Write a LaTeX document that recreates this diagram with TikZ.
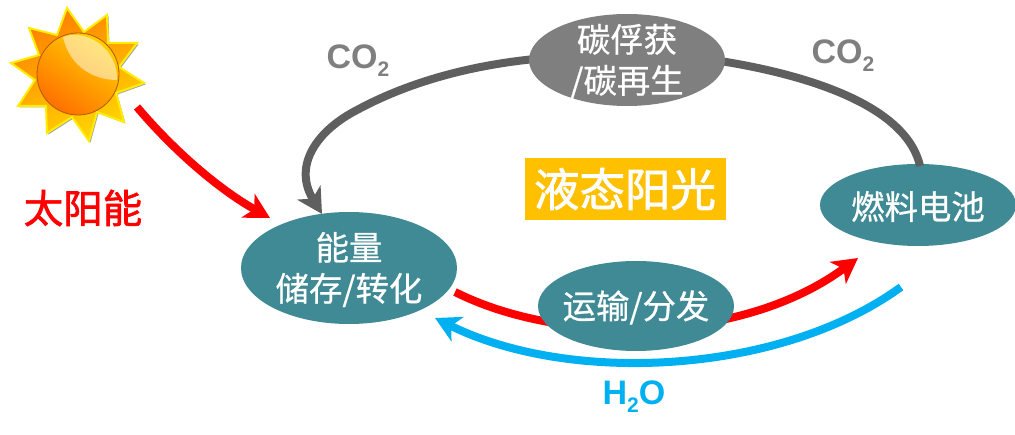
\documentclass[tikz,border=0pt]{standalone}
\usepackage{fontspec}
\setmainfont{Liberation Sans}
\newfontfamily\cjk[FakeBold=0.7]{Noto Sans CJK SC}
\newfontfamily\cjkb[FakeBold=1.6]{Noto Sans CJK SC}
\usetikzlibrary{arrows.meta,shapes.geometric,shadings}
\definecolor{teal1}{HTML}{3F8A94}
\definecolor{grey1}{HTML}{7F7F7F}
\definecolor{grey2}{HTML}{5F5F5F}
\definecolor{blue1}{HTML}{00B0F0}
\definecolor{gold1}{HTML}{FFC000}
\definecolor{ray1}{HTML}{FF8000}
\definecolor{ray2}{HTML}{FFD800}
\definecolor{ball1}{HTML}{FFD000}
\definecolor{ball2}{HTML}{FF7000}
\newcommand{\subtwo}{\raisebox{-8pt}{\fontsize{21}{21}\selectfont 2}}
\tikzset{
  ell/.style={ellipse,draw=none,fill=teal1,inner sep=0pt},
  elltxt/.style={text=white,inner sep=0pt,align=center,yshift=-1.5pt,font=\cjk\fontsize{33.4}{41}\selectfont},
  headtip/.tip={Stealth[length=25pt,width=27pt,inset=7pt]},
  redarrow/.style={draw=red,line width=8pt,-headtip},
  greyline/.style={draw=grey2,line width=8pt},
  bluearrow/.style={draw=blue1,line width=8pt,-headtip},
  lbl/.style={font=\bfseries\fontsize{34}{38}\selectfont,inner sep=0pt}
}
\begin{document}
\begin{tikzpicture}[x=1pt,y=-1pt]
\useasboundingbox (0,0) rectangle (1015,435);
% sun
\fill[gray!70,xshift=1.5pt,yshift=-1.5pt]
 (67,8)--(84,32)--(107,15)--(108,43)--(137,43)--(119,67)--(144,83)--(116,93)--(124,122)--(97,112)--(89,141)--(72,117)--(47,133)--(46,106)--(18,106)--(35,80)--(11,63)--(39,55)--(29,28)--(57,35)--cycle;
\path[draw=yellow!95!orange,line width=2pt,top color=ray1,bottom color=ray2,shading angle=25]
 (67,8)--(84,32)--(107,15)--(108,43)--(137,43)--(119,67)--(144,83)--(116,93)--(124,122)--(97,112)--(89,141)--(72,117)--(47,133)--(46,106)--(18,106)--(35,80)--(11,63)--(39,55)--(29,28)--(57,35)--cycle;
\shade[left color=ball1,right color=ball2,shading angle=-35,draw=orange!70!black,line width=.8pt] (78,74) circle (41);
\fill[white,opacity=.5] (63,37) .. controls (85,28) and (118,48) .. (117,80) .. controls (95,80) and (70,68) .. (63,37) -- cycle;
% ellipses that take the connector ends
\node[ell,minimum width=216pt,minimum height=112pt,label={[elltxt]center:{能量\\储存/转化}}] (en) at (349,268) {};
\node[ell,minimum width=196pt,minimum height=82pt,label={[elltxt]center:{燃料电池}}] (fc) at (918,205) {};
\coordinate (sunend) at (137,107);
\coordinate (redin) at (270,218);
\draw[redarrow] (sunend) .. controls (175,152) and (220,190) .. (redin);
% grey
\coordinate (capl) at (535,59);
\coordinate (capr) at (720,61);
\coordinate (grmid) at (357,110);
\coordinate (grin) at (322,214);
\coordinate (fctop) at (920,166);
\draw[greyline,-headtip] (capl) .. controls (465,66) and (405,84) .. (grmid) .. controls (318,130) and (292,165) .. (grin);
\draw[greyline] (capr) .. controls (790,72) and (905,100) .. (fctop);
% red through
\coordinate (rs) at (455,292);
\coordinate (re) at (858,258);
\draw[redarrow] (rs) .. controls (560,345) and (740,345) .. (re);
% blue
\coordinate (bs) at (901,287);
\coordinate (be) at (435,318);
\draw[bluearrow] (bs) .. controls (780,375) and (570,385) .. (be);
% nodes on top
\node[ell,fill=grey1,minimum width=196pt,minimum height=92pt,label={[elltxt]center:{碳俘获\\/碳再生}}] (cap) at (627,60) {};
\node[ell,minimum width=196pt,minimum height=90pt,label={[elltxt]center:{运输/分发}}] (tr) at (636,306) {};
\node[fill=gold1,text=white,minimum width=201pt,minimum height=62pt,inner sep=0pt,font=\cjkb\fontsize{45.5}{50}\selectfont] (ls) at (625,189) {液态阳光};
\node[text=red,inner sep=0pt,font=\cjkb\fontsize{39.5}{44}\selectfont] (sol) at (83,208) {太阳能};
\node[lbl,text=grey1] (c1) at (358,61) {CO\subtwo};
\node[lbl,text=grey1] (c2) at (843,56) {CO\subtwo};
\node[lbl,text=blue1] (h2o) at (634,397) {H\subtwo O};
\end{tikzpicture}
\end{document}
